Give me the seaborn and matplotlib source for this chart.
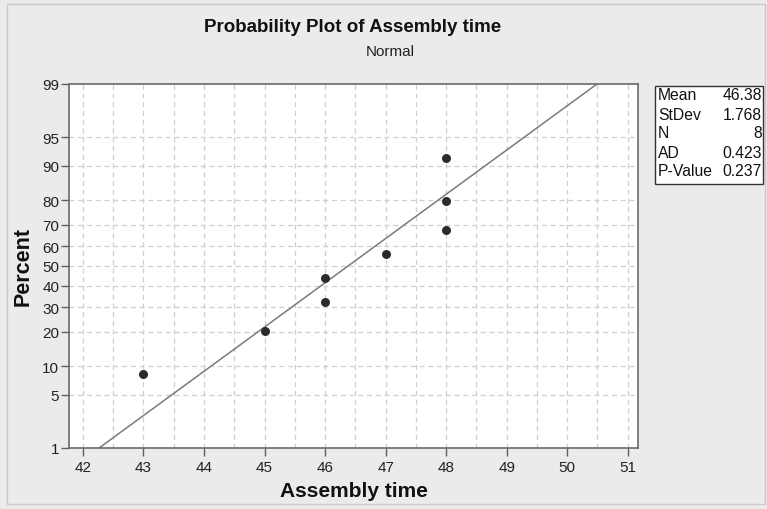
import matplotlib
matplotlib.use("Agg")
import matplotlib.pyplot as plt
import seaborn as sns
import numpy as np
import pandas as pd
from statistics import NormalDist
from matplotlib.patches import Rectangle
from matplotlib import font_manager

# ---- data ----
assembly_time = [43, 45, 46, 46, 47, 48, 48, 48]
percent = [8.3, 20.2, 32.1, 44.0, 56.0, 67.9, 79.8, 91.7]
mean_val = 46.38
stdev_val = 1.768
n_val = 8
ad_val = 0.423
p_val = 0.237
x_ticks = [42, 43, 44, 45, 46, 47, 48, 49, 50, 51]
y_ticks = [1, 5, 10, 20, 30, 40, 50, 60, 70, 80, 90, 95, 99]
fit_percent = [1, 99]
stat_labels = ["Mean", "StDev", "N", "AD", "P-Value"]
stat_values = ["46.38", "1.768", "8", "0.423", "0.237"]

nd = NormalDist()
def z(p):
    return nd.inv_cdf(p / 100.0)

sns.set_theme(style="white")
plt.rcParams['font.family'] = ['Liberation Sans', 'DejaVu Sans']

names = {f.name for f in font_manager.fontManager.ttflist}
narrow = 'Liberation Sans Narrow' if 'Liberation Sans Narrow' in names else 'Liberation Sans'
narrow_scale = 1.0 if narrow == 'Liberation Sans Narrow' else 0.88

W, H = 767, 510
fig = plt.figure(figsize=(W / 100, H / 100), dpi=100)
fig.patch.set_facecolor("#ebebeb")
fig.patches.append(Rectangle((7 / W, 5 / H), (W - 9) / W, (H - 10) / H,
                             transform=fig.transFigure, fill=False,
                             edgecolor="#c8c8c8", linewidth=1))

ax = fig.add_axes([69 / W, 1 - 449 / H, (638 - 69) / W, (449 - 85) / H])
ax.set_facecolor("white")

pts = pd.DataFrame({"x": assembly_time, "z": [z(p) for p in percent]})
fit = pd.DataFrame({"x": [mean_val + stdev_val * z(p) for p in fit_percent],
                    "z": [z(p) for p in fit_percent]})

# grid
for xv in np.arange(42, 51.01, 0.5):
    ax.axvline(xv, color="#cfcfcf", lw=0.9, ls=(0, (4, 3)), zorder=0)
for yv in y_ticks[1:-1]:
    ax.axhline(z(yv), color="#cfcfcf", lw=0.9, ls=(0, (4, 3)), zorder=0)

sns.lineplot(data=fit, x="x", y="z", ax=ax, color="#7a7a7a", lw=1.1,
             zorder=2, sort=False)
sns.scatterplot(data=pts, x="x", y="z", ax=ax, color="#2b2b2b", s=42,
                edgecolor="#2b2b2b", linewidth=0, zorder=3)

ax.set_xlim(41.77, 51.17)
ax.set_ylim(z(1), z(99))
ax.set_xticks(x_ticks)
ax.set_xticklabels([str(t) for t in x_ticks])
ax.set_yticks([z(t) for t in y_ticks])
ax.set_yticklabels([str(t) for t in y_ticks])
ax.tick_params(axis="both", which="major", direction="out", length=6,
               width=1, color="#606060", labelsize=11, labelcolor="#222222",
               pad=3, bottom=True, left=True)
ax.tick_params(axis="y", pad=1)
for s in ax.spines.values():
    s.set_visible(True)
    s.set_color("#6a6a6a")
    s.set_linewidth(1.2)

ax.set_xlabel("Assembly time", fontsize=15, fontweight="bold", color="#111111",
              labelpad=5)
ax.set_ylabel("Percent", fontsize=15.5, fontweight="bold", color="#111111",
              labelpad=6)

if narrow == 'Liberation Sans Narrow':
    fig.text(353 / W, 1 - 28 / H, "Probability Plot of Assembly time",
             ha="center", va="center", fontsize=15, fontweight="bold",
             color="#111111", family=[narrow, 'DejaVu Sans'])
    fig.text(390 / W, 1 - 52 / H, "Normal", ha="center", va="center",
             fontsize=12.5, color="#222222", family=[narrow, 'DejaVu Sans'])
else:
    fig.text(353 / W, 1 - 28 / H, "Probability Plot of Assembly time",
             ha="center", va="center", fontsize=13.5, fontweight="bold",
             color="#111111")
    fig.text(390 / W, 1 - 52 / H, "Normal", ha="center", va="center",
             fontsize=11, color="#222222")

# stats box
bx0, bx1, by0, by1 = 655, 763, 87, 185
fig.patches.append(Rectangle((bx0 / W, 1 - by1 / H), (bx1 - bx0) / W,
                             (by1 - by0) / H, transform=fig.transFigure,
                             facecolor="white", edgecolor="#333333",
                             linewidth=1, zorder=1))
for i, (lab, val) in enumerate(zip(stat_labels, stat_values)):
    yy = 1 - (96 + i * 19) / H
    fig.text(658 / W, yy, lab, ha="left", va="center", fontsize=11.3,
             color="#111111", zorder=2)
    fig.text(762 / W, yy, val, ha="right", va="center", fontsize=11.3,
             color="#111111", zorder=2)

fig.savefig("out.png", dpi=100, facecolor=fig.get_facecolor())
